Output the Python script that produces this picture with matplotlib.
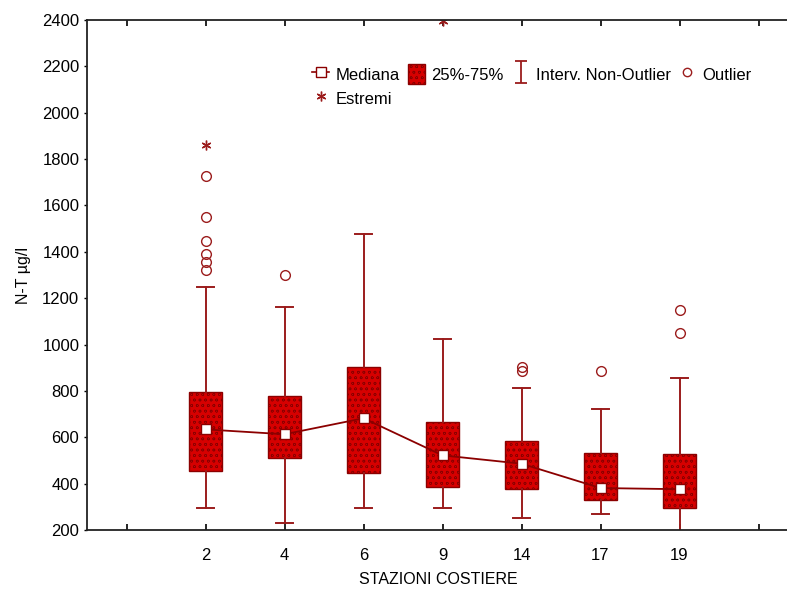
import numpy as np
import matplotlib
matplotlib.use("Agg")
import matplotlib.pyplot as plt
from matplotlib.lines import Line2D
from matplotlib.patches import Patch
from matplotlib.path import Path

plt.rcParams['font.family'] = ['Liberation Sans', 'DejaVu Sans']
plt.rcParams['hatch.linewidth'] = 0.4

# --- dati ---
stazioni = ['2', '4', '6', '9', '14', '17', '19']
mediana = [634, 613, 682, 522, 486, 381, 376]
q1 = [456, 511, 447, 384, 377, 328, 294]
q3 = [795, 778, 905, 667, 583, 533, 527]
whis_lo = [295, 230, 295, 295, 252, 268, 185]
whis_hi = [1248, 1163, 1478, 1024, 813, 722, 856]
outlier = [[1322, 1357, 1392, 1448, 1552, 1727], [1300], [], [], [887, 905], [887], [1049, 1149]]
estremi = [[1862], [], [], [2395], [], [], []]

ROSSO = '#d60000'
SCURO = '#8b0000'
BORDO = '#9b1c1c'

fig = plt.figure(figsize=(7.87, 5.92), dpi=100)
ax = fig.add_axes([87 / 787, 62 / 592, 711 / 787, 510 / 592])

pos = np.arange(1, len(stazioni) + 1)
stats = []
for i in range(len(stazioni)):
    stats.append(dict(med=mediana[i], q1=q1[i], q3=q3[i],
                      whislo=whis_lo[i], whishi=whis_hi[i], fliers=outlier[i]))

bp = ax.bxp(stats, positions=pos, widths=0.42, patch_artist=True,
            showfliers=True,
            boxprops=dict(facecolor=ROSSO, edgecolor=SCURO, linewidth=1.0, hatch='ooo'),
            whiskerprops=dict(color=BORDO, linewidth=1.4),
            capprops=dict(color=BORDO, linewidth=1.4),
            capwidths=0.21,
            medianprops=dict(linewidth=0),
            flierprops=dict(marker='o', markerfacecolor='none', markeredgecolor=BORDO,
                            markersize=7, markeredgewidth=1.0))

# mediane collegate
ax.plot(pos, mediana, color=SCURO, lw=1.3, marker='s', markersize=7,
        markerfacecolor='white', markeredgecolor=SCURO, markeredgewidth=1.0, zorder=5)

# estremi
for p, vals in zip(pos, estremi):
    if vals:
        ax.plot([p] * len(vals), vals, linestyle='none', marker=(6, 2, 0),
                markersize=7, markeredgecolor=BORDO, markeredgewidth=1.0)

ax.set_xlim(-0.5, 8.5)
ax.set_ylim(200, 2400)
ax.set_yticks(np.arange(200, 2401, 200))
ax.set_xticks(np.arange(0, 9))
ax.set_xticklabels([''] + stazioni + [''])
ax.tick_params(axis='x', direction='in', length=4, width=1.2, top=True, labelsize=12, pad=13)
ax.tick_params(axis='y', direction='out', length=2, width=1.0, labelsize=12)
for s in ax.spines.values():
    s.set_linewidth(1.3)
    s.set_color('#222222')

ax.set_xlabel('STAZIONI COSTIERE', fontsize=11.5, va='center')
ax.xaxis.set_label_coords((438 - 87) / 711, -(580 - 530) / 510)
ax.set_ylabel('N-T µg/l', fontsize=11.5, labelpad=8)

# legenda
ibeam = Path([(-0.5, 1), (0.5, 1), (0, 1), (0, -1), (-0.5, -1), (0.5, -1)],
             [Path.MOVETO, Path.LINETO, Path.MOVETO, Path.LINETO, Path.MOVETO, Path.LINETO])
h_med = Line2D([], [], color=SCURO, lw=1.2, marker='s', markersize=7,
               markerfacecolor='white', markeredgecolor=SCURO)
h_est = Line2D([], [], linestyle='none', marker=(6, 2, 0), markersize=7,
               markeredgecolor=BORDO)
h_box = Patch(facecolor=ROSSO, edgecolor=SCURO, hatch='ooo')
h_int = Line2D([], [], linestyle='none', marker=ibeam, markersize=16,
               markeredgecolor=BORDO, markeredgewidth=1.3)
h_out = Line2D([], [], linestyle='none', marker='o', markersize=6,
               markerfacecolor='none', markeredgecolor=BORDO)
fig.legend([h_med, h_est, h_box, h_int, h_out],
           ['Mediana', 'Estremi', '25%-75%', 'Interv. Non-Outlier', 'Outlier'],
           ncol=4, loc='upper left', bbox_to_anchor=(304 / 787, 1 - 56 / 592),
           frameon=False, fontsize=12, handlelength=1.0, handleheight=1.4,
           handletextpad=0.4, columnspacing=0.5, labelspacing=0.3, borderpad=0)

fig.savefig('out.png', dpi=100)
